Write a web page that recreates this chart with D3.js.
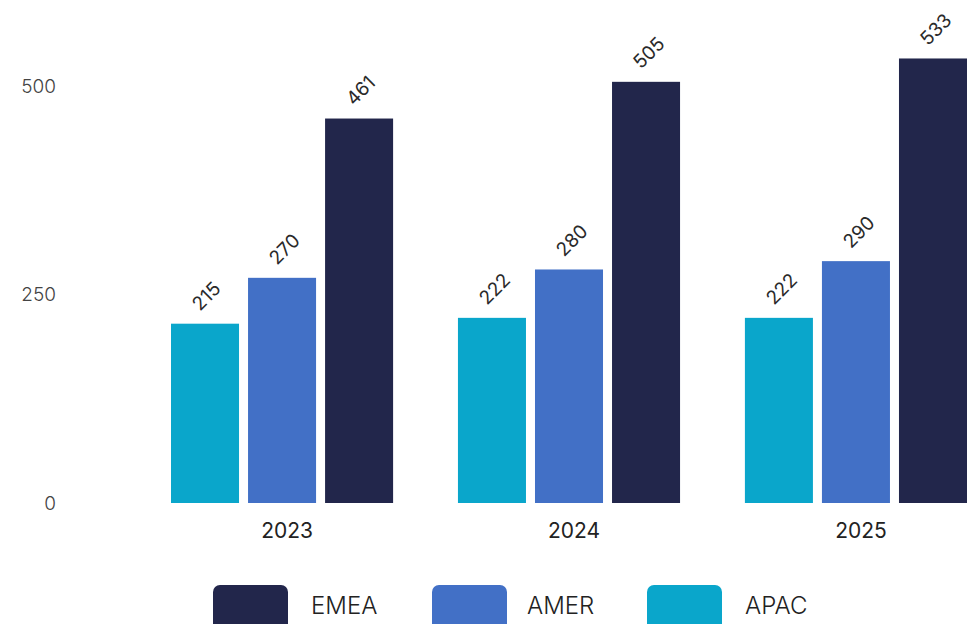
<!DOCTYPE html>
<html>
<head>
<meta charset="utf-8">
<script src="https://cdn.jsdelivr.net/npm/d3@7"></script>
<style>
  body { margin: 0; background: #fff; }
  svg { display: block; font-family: "Inter", "Roboto", sans-serif; }
</style>
</head>
<body>
<svg id="chart" width="967" height="624"></svg>
<script>
var years = ["2023", "2024", "2025"];
var regions = ["APAC", "AMER", "EMEA"];
var legendOrder = ["EMEA", "AMER", "APAC"];
var apac = [215, 222, 222];
var amer = [270, 280, 290];
var emea = [461, 505, 533];
var yTicks = [0, 250, 500];

var colors = { EMEA: "#22264b", AMER: "#4270c6", APAC: "#0aa6cb" };
var values = { APAC: apac, AMER: amer, EMEA: emea };

var svg = d3.select("#chart");

// Scales
var x = d3.scaleBand().domain(years).range([171, 967]).paddingInner(0.226).paddingOuter(0);
var xInner = d3.scaleBand().domain(regions).range([0, x.bandwidth()]).paddingInner(0.117);
var y = d3.scaleLinear().domain([0, 500]).range([503, 86]);

// Y axis labels
svg.append("g").selectAll("text")
  .data(yTicks)
  .enter().append("text")
  .attr("x", 56)
  .attr("y", function(d) { return y(d); })
  .attr("dy", "0.35em")
  .attr("text-anchor", "end")
  .attr("font-size", 19)
  .attr("font-weight", 300)
  .attr("fill", "#444")
  .text(function(d) { return d; });

// Bars
var groups = svg.append("g").selectAll("g")
  .data(years)
  .enter().append("g")
  .attr("transform", function(d) { return "translate(" + x(d) + ",0)"; });

regions.forEach(function(r) {
  groups.append("rect")
    .attr("x", xInner(r))
    .attr("y", function(d, i) { return y(values[r][i]); })
    .attr("width", xInner.bandwidth())
    .attr("height", function(d, i) { return y(0) - y(values[r][i]); })
    .attr("fill", colors[r]);

  groups.append("text")
    .attr("transform", function(d, i) {
      var cx = xInner(r) + xInner.bandwidth() / 2 - 5;
      var cy = y(values[r][i]) - 12;
      return "translate(" + cx + "," + cy + ") rotate(-45)";
    })
    .attr("font-size", 19)
    .attr("fill", "#2a2a2a")
    .text(function(d, i) { return values[r][i]; });
});

// Category labels
svg.append("g").selectAll("text")
  .data(years)
  .enter().append("text")
  .attr("x", function(d) { return x(d) + x.bandwidth() / 2 + 5; })
  .attr("y", 531)
  .attr("dy", "0.35em")
  .attr("text-anchor", "middle")
  .attr("font-size", 21)
  .attr("font-weight", 400)
  .attr("fill", "#222")
  .text(function(d) { return d; });

// Legend
var legendX = [213, 432, 647];
var legend = svg.append("g").selectAll("g")
  .data(legendOrder)
  .enter().append("g")
  .attr("transform", function(d, i) { return "translate(" + legendX[i] + ",585)"; });

legend.append("rect")
  .attr("width", 75)
  .attr("height", 45)
  .attr("rx", 7)
  .attr("fill", function(d) { return colors[d]; });

legend.append("text")
  .attr("x", function(d, i) { return [98, 95, 98][i]; })
  .attr("y", 21)
  .attr("dy", "0.35em")
  .attr("font-size", 24)
  .attr("font-weight", 300)
  .attr("fill", "#222")
  .text(function(d) { return d; });
</script>
</body>
</html>
